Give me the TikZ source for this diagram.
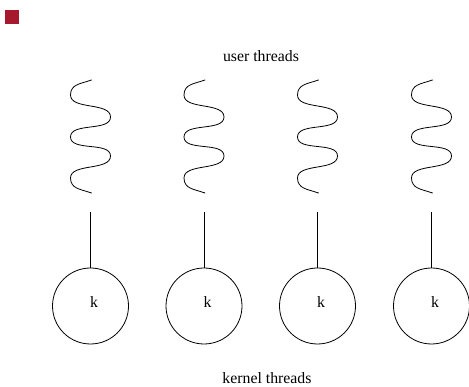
\documentclass[tikz,border=0pt]{standalone}
\usepackage{fontspec}
\setmainfont{Liberation Serif}
\definecolor{crimsonsq}{RGB}{166,25,46}
\begin{document}
\begin{tikzpicture}[x=1pt,y=1pt,
  every node/.style={font=\fontsize{15.8}{19}\selectfont},
  squig/.style={line width=0.8pt, line cap=round},
  link/.style={line width=0.8pt},
  kcircle/.style={circle, draw, line width=0.8pt, minimum size=76pt, inner sep=0pt}]
\useasboundingbox (0,0) rectangle (469,-387);
\fill[crimsonsq] (5,-10) rectangle (19,-24);
\node[anchor=base] (ut) at (261,-62) {user threads};
\node[anchor=base] (kt) at (267,-383.3) {kernel threads};
\foreach \i/\cx in {1/90.5,2/204,3/317.5,4/431.5}{
  \draw[squig] (\cx+1,-80) to[out=200,in=90,looseness=1.1] (\cx-20,-95)
     to[out=-90,in=90,looseness=0.85] (\cx+20,-117)
     to[out=-90,in=90,looseness=0.85] (\cx-20,-137)
     to[out=-90,in=90,looseness=0.85] (\cx+20,-156)
     to[out=-90,in=90,looseness=0.85] (\cx-20,-178)
     to[out=-90,in=160,looseness=1.1] (\cx+1,-193);
  \node[kcircle, label={[xshift=3.5pt,yshift=4pt]center:k}] (k\i) at (\cx,-306) {};
  \coordinate (t\i) at (\cx,-212);
  \draw[link] (t\i) -- (k\i);
}
\end{tikzpicture}
\end{document}
